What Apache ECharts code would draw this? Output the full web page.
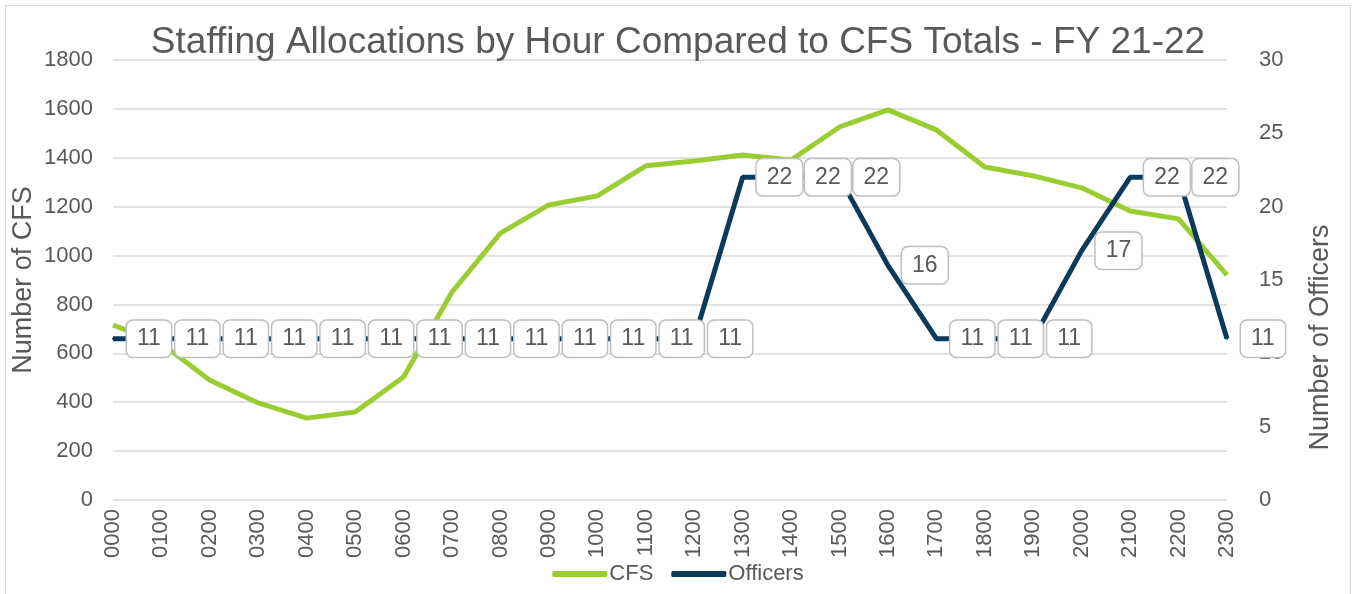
<!DOCTYPE html>
<html>
<head>
<meta charset="utf-8">
<script src="https://cdn.jsdelivr.net/npm/echarts@6/dist/echarts.min.js"></script>
<style>
  html, body { margin: 0; padding: 0; background: #fff; overflow: hidden; }
  #chart { position: absolute; left: 5px; top: 5px; width: 1344px; height: 588px; border: 1px solid #d9d9d9; }
</style>
</head>
<body>
<div id="chart"></div>
<script>
// hours along the x axis
var hours = ['0000', '0100', '0200', '0300', '0400', '0500', '0600', '0700', '0800', '0900', '1000', '1100',
  '1200', '1300', '1400', '1500', '1600', '1700', '1800', '1900', '2000', '2100', '2200', '2300']
// calls for service per hour (left axis)
var cfs = [716, 640, 490, 397, 335, 360, 503, 851, 1092, 1207, 1244, 1367,
  1387, 1411, 1391, 1526, 1596, 1514, 1362, 1326, 1277, 1182, 1150, 920]
// officers on shift (right axis)
var officers = [11, 11, 11, 11, 11, 11, 11, 11, 11, 11, 11, 11,
  11, 22, 22, 22, 16, 11, 11, 11, 17, 22, 22, 11]

var textColor = '#595959'
var font = 'Liberation Sans, Arial, sans-serif'

var chart = echarts.init(document.getElementById('chart'))
chart.setOption({
  animation: false,
  title: {
    text: 'Staffing Allocations by Hour Compared to CFS Totals - FY 21-22',
    left: 'center',
    top: 13,
    textStyle: { color: textColor, fontSize: 37, fontWeight: 'normal', fontFamily: font }
  },
  legend: {
    bottom: 4,
    left: 'center',
    itemWidth: 55,
    itemHeight: 6,
    itemGap: 18,
    icon: 'roundRect',
    textStyle: { color: textColor, fontSize: 22, fontFamily: font, padding: [0, 0, 0, -3] },
    data: ['CFS', 'Officers']
  },
  grid: { left: 107, right: 123, top: 54, bottom: 94, outerBoundsMode: 'none', containLabel: false },
  xAxis: {
    type: 'category',
    data: hours,
    boundaryGap: false,
    axisLine: { show: false },
    axisTick: { show: false },
    axisLabel: { rotate: 90, color: textColor, fontSize: 22, fontFamily: font, margin: 9 }
  },
  yAxis: [
    {
      type: 'value',
      min: 0, max: 1800, interval: 200,
      name: 'Number of CFS',
      nameLocation: 'middle',
      nameGap: 76,
      nameMoveOverlap: false,
      nameTextStyle: { color: textColor, fontSize: 27, fontFamily: font },
      axisLabel: {
        color: textColor, fontSize: 22, fontFamily: font, margin: 20,
        formatter: function (v) { return String(v) }
      },
      splitLine: { lineStyle: { color: '#d9d9d9', width: 1.5 } },
      axisLine: { show: false },
      axisTick: { show: false }
    },
    {
      type: 'value',
      min: 0, max: 30, interval: 5,
      name: 'Number of Officers',
      nameLocation: 'middle',
      nameGap: 80,
      nameTextStyle: { color: textColor, fontSize: 27, fontFamily: font, padding: [0, 0, 0, -115] },
      axisLabel: { color: textColor, fontSize: 22, fontFamily: font, margin: 32 },
      splitLine: { show: false },
      axisLine: { show: false },
      axisTick: { show: false }
    }
  ],
  series: [
    {
      name: 'CFS',
      type: 'line',
      yAxisIndex: 0,
      data: cfs,
      symbol: 'none',
      color: '#9acd32',
      lineStyle: { width: 5, color: '#9acd32' },
      z: 2
    },
    {
      name: 'Officers',
      type: 'line',
      yAxisIndex: 1,
      data: officers,
      symbol: 'circle',
      symbolSize: 2,
      showSymbol: true,
      showAllSymbol: true,
      color: '#0b3a5a',
      lineStyle: { width: 5, color: '#0b3a5a' },
      z: 3,
      label: {
        show: true,
        position: 'right',
        distance: 13,
        color: textColor,
        fontSize: 23,
        fontFamily: font,
        backgroundColor: '#fff',
        borderColor: '#bfbfbf',
        borderWidth: 1.5,
        borderRadius: 6,
        padding: [7, 10, 6, 10]
      },
      labelLayout: { hideOverlap: false }
    }
  ]
})
</script>
</body>
</html>
